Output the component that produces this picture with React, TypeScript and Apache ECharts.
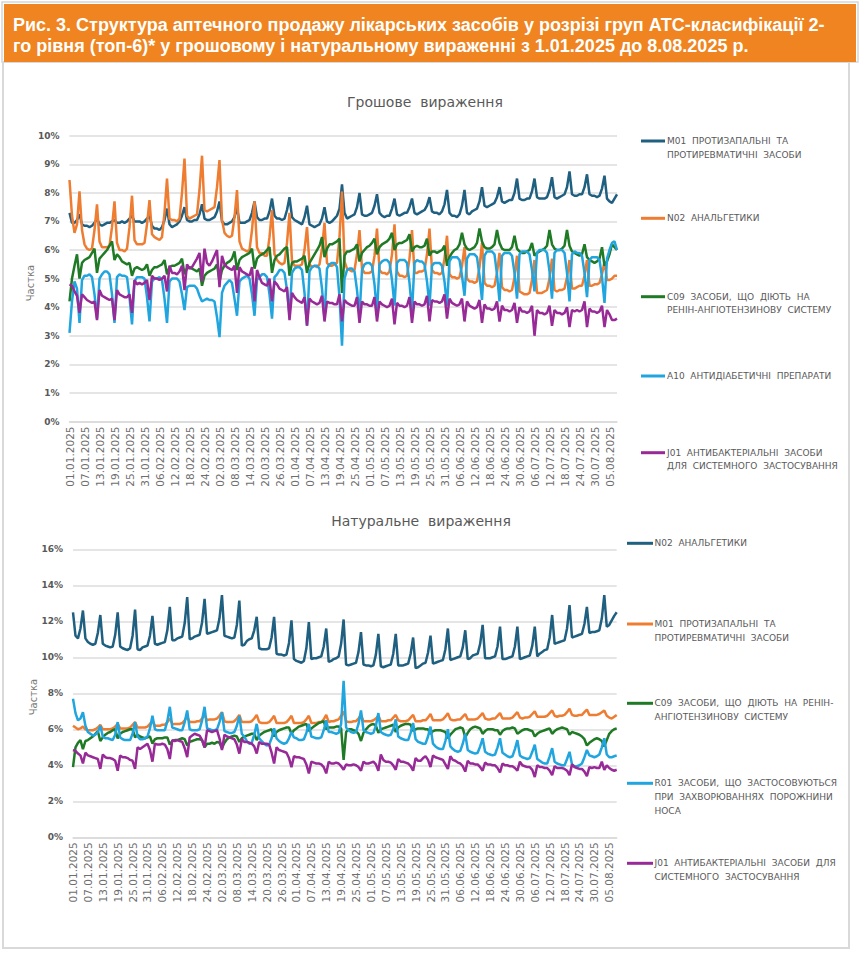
import React, { useEffect, useRef } from "react";
import * as echarts from "echarts";

// ---------- categories ----------
const START_DATE = "2025-01-01";
const DAY_COUNT = 220;
const LABEL_EVERY = 6;

// ---------- money share (%), daily from 01.01.2025 ----------
const m01Money = [
  7.30, 6.95, 6.95, 7.05, 7.25, 6.90, 6.85,
  6.85, 6.80, 6.85, 6.95, 7.10, 6.90, 6.85,
  6.90, 6.95, 6.95, 7.00, 7.05, 6.95, 6.95,
  7.00, 6.95, 7.00, 7.10, 7.20, 7.00, 7.00,
  7.00, 6.95, 7.00, 7.10, 7.20, 6.85, 6.75,
  6.75, 6.70, 6.80, 7.05, 7.45, 6.90, 6.80,
  6.85, 6.90, 7.00, 7.20, 7.50, 7.05, 7.00,
  7.00, 7.05, 7.05, 7.25, 7.60, 7.10, 7.05,
  7.05, 7.10, 7.15, 7.35, 7.70, 7.00, 6.90,
  6.90, 6.95, 7.00, 7.15, 7.50, 6.95, 6.95,
  6.95, 7.00, 7.05, 7.30, 7.70, 7.15, 7.05,
  7.05, 7.10, 7.10, 7.35, 7.80, 7.20, 7.10,
  7.10, 7.05, 7.10, 7.40, 7.85, 7.15, 7.05,
  7.00, 6.95, 6.90, 7.15, 7.55, 6.90, 6.85,
  6.80, 6.85, 6.90, 7.10, 7.50, 7.00, 6.95,
  7.00, 7.10, 7.20, 7.45, 8.30, 7.30, 7.10,
  7.15, 7.20, 7.25, 7.50, 8.00, 7.25, 7.20,
  7.20, 7.25, 7.30, 7.55, 7.95, 7.30, 7.20,
  7.15, 7.20, 7.20, 7.45, 7.80, 7.25, 7.20,
  7.25, 7.30, 7.30, 7.50, 7.80, 7.30, 7.25,
  7.30, 7.35, 7.40, 7.55, 7.85, 7.35, 7.30,
  7.30, 7.25, 7.35, 7.60, 8.10, 7.30, 7.20,
  7.20, 7.15, 7.25, 7.55, 8.10, 7.30, 7.25,
  7.35, 7.40, 7.45, 7.70, 8.20, 7.55, 7.50,
  7.55, 7.60, 7.65, 7.85, 8.20, 7.70, 7.65,
  7.70, 7.75, 7.75, 8.00, 8.50, 7.80, 7.75,
  7.75, 7.80, 7.80, 8.05, 8.50, 7.85, 7.80,
  7.80, 7.80, 7.85, 8.10, 8.55, 7.85, 7.80,
  7.85, 7.90, 7.95, 8.20, 8.75, 7.95, 7.90,
  7.90, 7.95, 7.95, 8.20, 8.65, 7.95, 7.90,
  7.90, 7.85, 7.90, 8.15, 8.60, 7.80, 7.70,
  7.65, 7.80, 7.95,
];

const n02Money = [
  8.45, 7.20, 6.60, 6.90, 8.05, 6.70, 6.20,
  6.05, 6.00, 6.05, 6.70, 7.60, 6.30, 6.10,
  6.10, 6.10, 6.15, 6.80, 7.70, 6.25, 6.00,
  6.00, 5.95, 6.05, 6.80, 7.90, 6.35, 6.20,
  6.20, 6.20, 6.25, 6.90, 7.75, 6.55, 6.45,
  6.40, 6.35, 6.45, 7.30, 8.50, 7.10, 7.05,
  7.05, 7.00, 7.10, 8.00, 9.20, 7.20, 7.10,
  7.15, 7.20, 7.25, 8.10, 9.30, 7.40, 7.35,
  7.40, 7.45, 7.50, 8.20, 9.15, 7.05, 6.60,
  6.50, 6.45, 6.50, 7.15, 8.10, 6.30, 6.05,
  6.00, 5.95, 6.00, 6.70, 7.70, 6.10, 5.90,
  5.90, 5.80, 5.80, 6.45, 7.40, 5.85, 5.65,
  5.55, 5.50, 5.55, 6.25, 7.30, 5.60, 5.45,
  5.45, 5.45, 5.50, 6.00, 6.80, 5.50, 5.40,
  5.45, 5.40, 5.50, 6.05, 6.95, 5.55, 5.45,
  5.45, 5.50, 5.55, 6.45, 8.05, 5.60, 5.35,
  5.30, 5.25, 5.30, 5.85, 6.70, 5.35, 5.20,
  5.20, 5.20, 5.25, 5.80, 6.75, 5.30, 5.20,
  5.20, 5.15, 5.25, 5.85, 6.90, 5.25, 5.10,
  5.10, 5.05, 5.10, 5.70, 6.70, 5.20, 5.20,
  5.25, 5.25, 5.30, 5.85, 6.75, 5.30, 5.20,
  5.20, 5.15, 5.20, 5.70, 6.50, 5.15, 5.05,
  5.05, 5.00, 5.05, 5.45, 6.10, 5.00, 4.90,
  4.90, 4.85, 4.90, 5.40, 6.25, 4.85, 4.75,
  4.75, 4.70, 4.75, 5.20, 5.90, 4.70, 4.60,
  4.60, 4.55, 4.60, 5.05, 5.80, 4.55, 4.50,
  4.45, 4.45, 4.50, 4.95, 5.65, 4.50, 4.50,
  4.50, 4.55, 4.60, 5.00, 5.70, 4.60, 4.55,
  4.60, 4.60, 4.65, 5.05, 5.65, 4.65, 4.65,
  4.70, 4.75, 4.75, 5.10, 5.65, 4.75, 4.75,
  4.80, 4.80, 4.85, 5.15, 5.60, 4.95, 4.95,
  5.00, 5.10, 5.10,
];

const c09Money = [
  4.20, 5.00, 5.45, 5.85, 5.00, 5.55, 5.65,
  5.70, 5.75, 5.90, 6.05, 5.20, 5.70, 5.80,
  5.90, 6.00, 6.15, 6.30, 5.65, 5.85, 5.75,
  5.60, 5.55, 5.50, 5.55, 5.10, 5.35, 5.40,
  5.35, 5.30, 5.35, 5.50, 5.10, 5.30, 5.40,
  5.40, 5.45, 5.50, 5.65, 5.15, 5.40, 5.45,
  5.45, 5.50, 5.55, 5.70, 5.15, 5.35, 5.40,
  5.35, 5.30, 5.25, 5.35, 4.75, 5.10, 5.20,
  5.25, 5.30, 5.35, 5.50, 4.90, 5.30, 5.45,
  5.55, 5.60, 5.70, 5.95, 5.30, 5.65, 5.75,
  5.80, 5.85, 5.90, 6.05, 5.35, 5.70, 5.80,
  5.85, 5.90, 6.00, 6.10, 5.20, 5.65, 5.80,
  5.85, 5.95, 6.05, 6.10, 5.10, 5.55, 5.60,
  5.60, 5.65, 5.70, 5.80, 5.20, 5.55, 5.70,
  5.85, 6.00, 6.15, 6.45, 5.75, 6.05, 6.20,
  6.20, 6.25, 6.30, 6.40, 4.50, 5.80, 5.95,
  5.95, 6.00, 6.05, 6.20, 5.60, 5.90, 6.00,
  6.10, 6.15, 6.25, 6.40, 5.85, 6.10, 6.20,
  6.25, 6.30, 6.40, 6.60, 6.00, 6.20, 6.25,
  6.25, 6.30, 6.35, 6.55, 5.95, 6.10, 6.15,
  6.10, 6.10, 6.15, 6.40, 5.80, 5.95, 5.95,
  5.90, 5.95, 6.00, 6.15, 5.45, 5.75, 5.90,
  6.00, 6.05, 6.20, 6.60, 6.20, 6.05, 6.00,
  6.05, 6.10, 6.25, 6.75, 6.30, 6.10, 6.05,
  6.05, 6.10, 6.20, 6.70, 6.25, 6.05, 6.00,
  6.00, 6.00, 6.10, 6.50, 6.05, 5.95, 5.90,
  5.90, 5.95, 6.00, 6.25, 5.80, 5.90, 5.95,
  6.00, 6.05, 6.15, 6.70, 6.20, 6.05, 6.00,
  6.00, 6.05, 6.15, 6.70, 6.15, 5.95, 5.90,
  5.85, 5.80, 5.85, 6.20, 5.75, 5.65, 5.60,
  5.55, 5.60, 5.70, 6.10, 5.45, 5.60, 5.85,
  6.20, 6.10, 6.00,
];

const a10Money = [
  3.10, 4.20, 4.90, 4.65, 3.45, 4.95, 5.10,
  5.10, 5.15, 5.05, 4.45, 3.60, 5.00, 5.15,
  5.25, 5.25, 5.15, 4.45, 3.45, 5.05, 5.15,
  5.10, 5.10, 5.05, 4.35, 3.40, 4.90, 5.05,
  5.05, 5.05, 5.00, 4.35, 3.50, 4.90, 5.00,
  5.00, 5.05, 4.95, 4.30, 3.45, 4.90, 5.00,
  5.00, 5.00, 4.90, 4.45, 3.90, 4.70, 4.75,
  4.75, 4.75, 4.65, 4.40, 4.20, 4.25, 4.30,
  4.25, 4.25, 4.20, 3.65, 2.95, 4.50, 4.75,
  4.85, 4.95, 4.85, 4.30, 3.70, 4.90, 5.00,
  5.05, 5.10, 5.00, 4.45, 3.70, 4.95, 5.05,
  5.15, 5.15, 5.05, 4.45, 3.60, 5.05, 5.15,
  5.30, 5.30, 5.20, 4.60, 3.70, 5.20, 5.35,
  5.40, 5.40, 5.30, 4.50, 3.35, 5.25, 5.40,
  5.45, 5.45, 5.35, 4.65, 3.60, 5.35, 5.50,
  5.55, 5.55, 5.40, 4.35, 2.65, 5.00, 5.30,
  5.35, 5.35, 5.25, 4.60, 3.70, 5.30, 5.50,
  5.55, 5.55, 5.45, 4.80, 3.80, 5.50, 5.60,
  5.65, 5.65, 5.55, 4.95, 4.05, 5.55, 5.65,
  5.65, 5.65, 5.55, 4.85, 3.85, 5.55, 5.65,
  5.60, 5.60, 5.50, 4.90, 4.05, 5.45, 5.55,
  5.55, 5.55, 5.45, 4.90, 4.05, 5.60, 5.75,
  5.75, 5.75, 5.65, 5.10, 4.40, 5.70, 5.85,
  5.85, 5.85, 5.75, 5.10, 4.25, 5.80, 5.95,
  5.95, 5.95, 5.85, 5.15, 4.20, 5.80, 5.90,
  5.90, 5.90, 5.80, 5.20, 4.30, 5.85, 5.95,
  5.95, 5.95, 5.85, 5.30, 4.55, 5.90, 6.00,
  6.00, 6.00, 5.90, 5.25, 4.30, 5.90, 6.00,
  6.00, 6.00, 5.90, 5.20, 4.20, 5.85, 5.95,
  5.90, 5.90, 5.80, 5.20, 4.35, 5.65, 5.75,
  5.75, 5.75, 5.65, 5.05, 4.15, 5.70, 6.00,
  6.25, 6.30, 6.00,
];

const j01Money = [
  4.80, 4.75, 4.55, 4.40, 3.80, 4.45, 4.35,
  4.25, 4.20, 4.15, 4.20, 3.55, 4.60, 4.40,
  4.35, 4.30, 4.25, 4.30, 3.55, 4.60, 4.45,
  4.40, 4.35, 4.35, 4.45, 3.80, 4.95, 4.80,
  4.85, 4.80, 4.85, 4.95, 4.25, 5.10, 5.00,
  5.00, 4.95, 5.00, 5.10, 4.55, 5.45, 5.20,
  5.20, 5.15, 5.25, 5.45, 4.60, 5.50, 5.35,
  5.40, 5.55, 5.70, 5.90, 4.90, 6.05, 5.55,
  5.45, 5.60, 5.80, 6.00, 4.70, 5.80, 5.50,
  5.40, 5.35, 5.30, 5.45, 4.50, 5.40, 5.25,
  5.20, 5.15, 5.10, 5.40, 4.20, 5.30, 5.05,
  4.85, 4.80, 4.75, 5.00, 4.20, 4.90, 4.80,
  4.65, 4.60, 4.55, 4.70, 3.55, 4.50, 4.35,
  4.25, 4.20, 4.15, 4.35, 3.35, 4.30, 4.20,
  4.15, 4.10, 4.15, 4.40, 3.50, 4.20, 4.15,
  4.15, 4.10, 4.10, 4.45, 3.50, 4.25, 4.15,
  4.10, 4.05, 4.05, 4.35, 3.45, 4.20, 4.10,
  4.10, 4.05, 4.05, 4.35, 3.50, 4.20, 4.10,
  4.05, 4.00, 4.05, 4.30, 3.40, 4.15, 4.05,
  4.05, 4.00, 4.05, 4.35, 3.45, 4.20, 4.10,
  4.10, 4.05, 4.10, 4.40, 3.50, 4.25, 4.20,
  4.20, 4.15, 4.20, 4.45, 3.60, 4.30, 4.15,
  4.10, 4.05, 4.10, 4.30, 3.50, 4.20, 4.05,
  4.00, 3.95, 4.00, 4.25, 3.45, 4.10, 3.95,
  3.95, 3.90, 3.95, 4.20, 3.50, 4.05, 3.90,
  3.90, 3.85, 3.90, 4.15, 3.45, 4.00, 3.85,
  3.85, 3.80, 3.85, 4.05, 3.00, 3.90, 3.80,
  3.80, 3.75, 3.80, 4.05, 3.35, 3.90, 3.80,
  3.80, 3.75, 3.80, 4.00, 3.30, 3.90, 3.85,
  3.90, 3.85, 3.90, 4.20, 3.30, 3.95, 3.85,
  3.85, 3.80, 3.85, 4.05, 3.30, 3.90, 3.75,
  3.55, 3.55, 3.60,
];

// ---------- units share (%), daily from 01.01.2025 ----------
const n02Units = [
  12.50, 11.20, 11.05, 11.60, 12.60, 11.05, 10.85,
  10.75, 10.70, 10.75, 11.35, 12.35, 10.75, 10.65,
  10.60, 10.55, 10.60, 11.25, 12.50, 10.60, 10.50,
  10.45, 10.40, 10.50, 11.20, 12.65, 10.45, 10.40,
  10.55, 10.60, 10.65, 11.20, 12.30, 10.75, 10.70,
  10.75, 10.80, 10.85, 11.50, 12.80, 10.95, 10.95,
  11.05, 11.10, 11.15, 11.90, 13.35, 11.00, 11.05,
  11.15, 11.20, 11.25, 11.95, 13.25, 11.30, 11.35,
  11.40, 11.45, 11.50, 12.15, 13.45, 11.20, 11.15,
  11.10, 11.05, 11.10, 11.80, 13.15, 10.65, 10.70,
  10.90, 11.00, 11.05, 11.50, 12.25, 10.50, 10.45,
  10.45, 10.45, 10.50, 11.10, 12.25, 10.20, 10.15,
  10.15, 10.10, 10.15, 10.80, 12.05, 9.90, 9.80,
  9.75, 9.70, 9.80, 10.50, 11.95, 9.90, 9.95,
  9.95, 10.00, 10.05, 10.60, 11.60, 9.75, 9.80,
  9.90, 9.95, 10.05, 10.75, 12.10, 9.60, 9.55,
  9.60, 9.65, 9.70, 10.30, 11.40, 9.60, 9.55,
  9.55, 9.50, 9.55, 10.15, 11.30, 9.50, 9.45,
  9.50, 9.55, 9.60, 10.20, 11.30, 9.55, 9.55,
  9.55, 9.60, 9.65, 10.20, 11.10, 9.40, 9.45,
  9.55, 9.65, 9.70, 10.25, 11.20, 9.65, 9.70,
  9.75, 9.80, 9.85, 10.45, 11.60, 9.85, 9.90,
  9.95, 10.00, 10.05, 10.55, 11.50, 9.90, 9.95,
  10.10, 10.15, 10.20, 10.75, 11.80, 9.95, 9.95,
  9.95, 10.00, 10.05, 10.60, 11.70, 9.90, 9.90,
  9.95, 10.00, 10.05, 10.60, 11.70, 9.90, 9.95,
  10.00, 10.05, 10.10, 10.65, 11.70, 10.05, 10.20,
  10.30, 10.40, 10.45, 11.10, 12.35, 10.75, 10.80,
  10.85, 10.90, 10.95, 11.60, 12.90, 11.10, 11.15,
  11.20, 11.25, 11.30, 11.85, 12.80, 11.35, 11.40,
  11.40, 11.45, 11.50, 12.15, 13.45, 11.70, 11.80,
  12.05, 12.30, 12.50,
];

const m01Units = [
  6.20, 6.10, 6.00, 6.05, 6.15, 6.00, 5.95,
  5.95, 5.95, 6.00, 6.10, 6.25, 6.00, 6.00,
  6.00, 6.00, 6.05, 6.15, 6.30, 6.05, 6.05,
  6.05, 6.05, 6.10, 6.25, 6.40, 6.10, 6.10,
  6.10, 6.10, 6.15, 6.30, 6.45, 6.20, 6.20,
  6.20, 6.25, 6.25, 6.40, 6.60, 6.30, 6.30,
  6.30, 6.30, 6.35, 6.50, 6.70, 6.40, 6.40,
  6.40, 6.45, 6.45, 6.60, 6.80, 6.50, 6.55,
  6.55, 6.55, 6.60, 6.75, 6.95, 6.45, 6.40,
  6.40, 6.40, 6.45, 6.60, 6.80, 6.40, 6.40,
  6.40, 6.40, 6.45, 6.60, 6.80, 6.40, 6.35,
  6.35, 6.35, 6.40, 6.55, 6.75, 6.35, 6.35,
  6.35, 6.35, 6.40, 6.55, 6.75, 6.35, 6.35,
  6.35, 6.35, 6.40, 6.55, 6.75, 6.35, 6.35,
  6.35, 6.40, 6.40, 6.55, 6.80, 6.40, 6.45,
  6.45, 6.50, 6.55, 6.75, 7.00, 6.45, 6.40,
  6.40, 6.45, 6.45, 6.60, 6.80, 6.45, 6.45,
  6.45, 6.45, 6.50, 6.60, 6.75, 6.45, 6.45,
  6.45, 6.50, 6.50, 6.65, 6.80, 6.50, 6.45,
  6.45, 6.45, 6.50, 6.65, 6.80, 6.45, 6.45,
  6.45, 6.50, 6.50, 6.65, 6.85, 6.50, 6.50,
  6.50, 6.50, 6.55, 6.70, 6.90, 6.55, 6.50,
  6.50, 6.55, 6.55, 6.70, 6.85, 6.55, 6.55,
  6.55, 6.55, 6.60, 6.75, 6.90, 6.60, 6.55,
  6.55, 6.60, 6.60, 6.75, 6.90, 6.60, 6.60,
  6.60, 6.60, 6.65, 6.80, 6.95, 6.65, 6.60,
  6.65, 6.65, 6.70, 6.85, 7.00, 6.70, 6.70,
  6.70, 6.70, 6.75, 6.90, 7.05, 6.75, 6.70,
  6.75, 6.75, 6.80, 6.95, 7.15, 6.80, 6.75,
  6.75, 6.80, 6.80, 6.95, 7.10, 6.80, 6.80,
  6.80, 6.80, 6.85, 6.95, 7.05, 6.75, 6.65,
  6.60, 6.70, 6.80,
];

const c09Units = [
  3.90, 5.00, 5.25, 5.40, 4.90, 5.35, 5.40,
  5.50, 5.60, 5.75, 5.90, 5.35, 5.55, 5.70,
  5.80, 5.85, 5.95, 6.00, 5.50, 5.75, 5.85,
  5.90, 5.95, 6.00, 6.00, 5.55, 5.70, 5.60,
  5.55, 5.50, 5.55, 5.60, 5.20, 5.45, 5.50,
  5.50, 5.50, 5.55, 5.55, 5.15, 5.35, 5.40,
  5.40, 5.45, 5.50, 5.45, 5.10, 5.30, 5.35,
  5.40, 5.45, 5.45, 5.40, 5.00, 5.20, 5.20,
  5.25, 5.20, 5.30, 5.25, 4.95, 5.25, 5.45,
  5.55, 5.60, 5.65, 5.60, 5.30, 5.50, 5.60,
  5.65, 5.70, 5.75, 5.75, 5.40, 5.65, 5.75,
  5.85, 5.90, 5.95, 6.00, 5.60, 5.85, 5.95,
  6.00, 6.05, 6.10, 6.10, 5.75, 5.95, 6.05,
  6.15, 6.20, 6.25, 6.30, 5.90, 6.05, 6.15,
  6.25, 6.35, 6.40, 6.45, 6.00, 6.10, 6.10,
  6.10, 6.15, 6.15, 6.05, 4.30, 5.85, 6.00,
  6.00, 5.95, 5.90, 5.75, 5.35, 5.80, 6.00,
  6.15, 6.25, 6.30, 6.20, 5.80, 6.00, 6.05,
  6.10, 6.15, 6.20, 6.25, 5.85, 6.10, 6.20,
  6.25, 6.30, 6.30, 6.25, 5.90, 6.00, 6.05,
  6.05, 6.05, 6.00, 6.00, 5.75, 5.90, 5.95,
  5.95, 5.95, 5.90, 5.85, 5.50, 5.70, 5.85,
  6.00, 6.05, 6.10, 6.05, 5.55, 5.80, 6.00,
  6.10, 6.15, 6.10, 6.05, 5.75, 5.90, 6.00,
  6.00, 6.00, 5.95, 5.95, 5.70, 5.90, 6.00,
  6.05, 6.05, 6.10, 6.05, 5.75, 5.85, 5.95,
  6.00, 6.00, 5.95, 5.90, 5.60, 5.75, 5.85,
  5.90, 5.95, 6.00, 6.05, 5.75, 5.90, 6.00,
  6.05, 6.10, 6.05, 6.00, 5.70, 5.85, 5.80,
  5.75, 5.70, 5.60, 5.45, 5.10, 5.25, 5.35,
  5.45, 5.50, 5.45, 5.35, 5.05, 5.40, 5.75,
  5.90, 6.00, 6.05,
];

const r01Units = [
  7.70, 6.90, 6.50, 6.60, 6.95, 6.20, 5.85,
  5.75, 5.65, 5.70, 5.85, 6.20, 5.60, 5.50,
  5.50, 5.45, 5.40, 5.70, 6.40, 5.55, 5.45,
  5.40, 5.40, 5.40, 5.75, 6.40, 5.60, 5.45,
  5.45, 5.50, 5.60, 6.05, 6.75, 6.00, 5.95,
  5.95, 5.95, 5.95, 6.45, 7.25, 6.10, 6.05,
  6.00, 5.95, 5.95, 6.40, 7.05, 6.00, 5.95,
  5.95, 5.95, 6.00, 6.50, 7.25, 6.05, 6.00,
  5.95, 5.95, 6.00, 6.40, 6.95, 5.90, 5.85,
  5.80, 5.80, 5.85, 6.20, 6.75, 5.75, 5.60,
  5.35, 5.20, 5.25, 5.70, 6.30, 5.50, 5.35,
  5.20, 5.10, 5.15, 5.50, 6.05, 5.50, 5.35,
  5.25, 5.20, 5.25, 5.50, 5.85, 5.55, 5.50,
  5.40, 5.40, 5.45, 5.80, 6.30, 5.60, 5.55,
  5.50, 5.50, 5.55, 5.95, 6.50, 5.85, 5.85,
  5.80, 5.75, 5.80, 6.30, 8.70, 6.10, 5.95,
  5.85, 5.80, 5.85, 6.30, 7.05, 5.95, 5.85,
  5.80, 5.75, 5.80, 6.20, 6.90, 5.85, 5.75,
  5.70, 5.65, 5.70, 6.00, 6.55, 5.60, 5.50,
  5.45, 5.40, 5.40, 5.80, 6.35, 5.45, 5.30,
  5.25, 5.20, 5.20, 5.60, 6.15, 5.20, 5.05,
  4.95, 4.90, 4.90, 5.35, 6.00, 5.05, 4.90,
  4.80, 4.75, 4.80, 5.20, 5.75, 4.85, 4.75,
  4.70, 4.65, 4.70, 5.05, 5.50, 4.75, 4.65,
  4.60, 4.55, 4.60, 5.00, 5.50, 4.70, 4.60,
  4.50, 4.45, 4.50, 4.90, 5.40, 4.55, 4.45,
  4.40, 4.35, 4.40, 4.75, 5.15, 4.35, 4.25,
  4.15, 4.10, 4.10, 4.50, 4.95, 4.20, 4.10,
  4.05, 4.00, 4.00, 4.35, 4.75, 4.05, 3.95,
  3.95, 4.00, 4.10, 4.45, 4.85, 4.55, 4.50,
  4.45, 4.50, 4.60, 5.00, 5.50, 4.60, 4.45,
  4.45, 4.50, 4.55,
];

const j01Units = [
  4.85, 4.80, 4.65, 4.55, 4.10, 4.70, 4.55,
  4.50, 4.45, 4.40, 4.35, 3.80, 4.60, 4.45,
  4.40, 4.40, 4.35, 4.25, 3.70, 4.55, 4.45,
  4.45, 4.40, 4.30, 4.25, 3.80, 5.00, 4.90,
  5.00, 5.10, 5.20, 4.85, 4.20, 5.20, 5.15,
  5.15, 5.20, 5.15, 4.90, 4.35, 5.40, 5.35,
  5.40, 5.35, 5.30, 4.95, 4.45, 5.55, 5.65,
  5.75, 5.70, 5.65, 5.40, 5.00, 5.95, 5.90,
  5.85, 5.90, 5.95, 5.50, 4.85, 5.70, 5.60,
  5.55, 5.50, 5.45, 5.15, 4.65, 5.45, 5.30,
  5.30, 5.25, 5.20, 5.05, 4.65, 5.30, 5.20,
  5.20, 5.20, 5.15, 4.70, 4.10, 5.00, 4.85,
  4.80, 4.75, 4.70, 4.40, 3.90, 4.50, 4.45,
  4.45, 4.40, 4.35, 4.05, 3.55, 4.20, 4.15,
  4.10, 4.10, 4.05, 3.90, 3.55, 4.20, 4.10,
  4.10, 4.15, 4.10, 3.95, 3.75, 4.05, 4.00,
  4.00, 4.05, 4.00, 3.90, 3.70, 4.20, 4.10,
  4.10, 4.15, 4.20, 4.05, 3.70, 4.60, 4.30,
  4.20, 4.20, 4.15, 4.00, 3.75, 4.35, 4.20,
  4.20, 4.15, 4.10, 3.95, 3.70, 4.40, 4.25,
  4.25, 4.40, 4.50, 4.30, 3.90, 4.55, 4.45,
  4.40, 4.35, 4.30, 4.05, 3.80, 4.50, 4.30,
  4.25, 4.15, 4.10, 3.95, 3.65, 4.25, 4.10,
  4.10, 4.05, 4.05, 3.90, 3.70, 4.15, 4.05,
  4.05, 4.00, 4.00, 3.85, 3.60, 4.10, 4.00,
  4.00, 3.95, 3.95, 3.85, 3.70, 4.20, 4.00,
  3.95, 3.90, 3.90, 3.75, 3.35, 4.00, 3.90,
  3.90, 3.85, 3.85, 3.70, 3.45, 3.95, 3.85,
  3.85, 3.85, 3.80, 3.70, 3.45, 4.05, 3.90,
  3.85, 3.80, 3.80, 3.65, 3.40, 3.90, 3.85,
  3.90, 3.85, 3.85, 4.20, 3.75, 4.00, 3.85,
  3.75, 3.70, 3.75,
];

// ---------- tick labels / texts ----------
const moneyTicks = [0, 1, 2, 3, 4, 5, 6, 7, 8, 9, 10];
const unitTicks = [0, 2, 4, 6, 8, 10, 12, 14, 16];

const HEADER_1 =
  "Рис. 3. Структура аптечного продажу лікарських засобів у розрізі груп АТС-класифікації 2-";
const HEADER_2 =
  "го рівня (топ-6)* у грошовому і натуральному вираженні з 1.01.2025 до 8.08.2025 р.";
const TITLE_MONEY = "Грошове  вираження";
const TITLE_UNITS = "Натуральне  вираження";
const Y_NAME = "Частка";

const COLORS = {
  dark: "#1f5f80",
  orange: "#ee7d31",
  green: "#1f7a25",
  light: "#21a5de",
  purple: "#982a97",
};

const moneySeries = [
  { name: "M01", lines: ["M01  ПРОТИЗАПАЛЬНІ  ТА", "ПРОТИРЕВМАТИЧНІ  ЗАСОБИ"], color: COLORS.dark, data: m01Money },
  { name: "N02", lines: ["N02  АНАЛЬГЕТИКИ"], color: COLORS.orange, data: n02Money },
  { name: "C09", lines: ["C09  ЗАСОБИ,  ЩО  ДІЮТЬ  НА", "РЕНІН-АНГІОТЕНЗИНОВУ  СИСТЕМУ"], color: COLORS.green, data: c09Money },
  { name: "A10", lines: ["A10  АНТИДІАБЕТИЧНІ  ПРЕПАРАТИ"], color: COLORS.light, data: a10Money },
  { name: "J01", lines: ["J01  АНТИБАКТЕРІАЛЬНІ  ЗАСОБИ", "ДЛЯ  СИСТЕМНОГО  ЗАСТОСУВАННЯ"], color: COLORS.purple, data: j01Money },
];

const unitSeries = [
  { name: "N02 ", lines: ["N02  АНАЛЬГЕТИКИ"], color: COLORS.dark, data: n02Units },
  { name: "M01 ", lines: ["M01  ПРОТИЗАПАЛЬНІ  ТА", "ПРОТИРЕВМАТИЧНІ  ЗАСОБИ"], color: COLORS.orange, data: m01Units },
  { name: "C09 ", lines: ["C09  ЗАСОБИ,  ЩО  ДІЮТЬ  НА  РЕНІН-", "АНГІОТЕНЗИНОВУ  СИСТЕМУ"], color: COLORS.green, data: c09Units },
  { name: "R01", lines: ["R01  ЗАСОБИ,  ЩО  ЗАСТОСОВУЮТЬСЯ", "ПРИ  ЗАХВОРЮВАННЯХ  ПОРОЖНИНИ", "НОСА"], color: COLORS.light, data: r01Units },
  { name: "J01 ", lines: ["J01  АНТИБАКТЕРІАЛЬНІ  ЗАСОБИ  ДЛЯ", "СИСТЕМНОГО  ЗАСТОСУВАННЯ"], color: COLORS.purple, data: j01Units },
];

function buildDates(): string[] {
  const out: string[] = [];
  const [y, m, d] = START_DATE.split("-").map(Number);
  for (let i = 0; i < DAY_COUNT; i++) {
    const dt = new Date(Date.UTC(y, m - 1, d + i));
    const dd = String(dt.getUTCDate()).padStart(2, "0");
    const mm = String(dt.getUTCMonth() + 1).padStart(2, "0");
    out.push(`${dd}.${mm}.${dt.getUTCFullYear()}`);
  }
  return out;
}

const dates = buildDates();

// layout
const TOP_GRID = { left: 69.5, right: 243, top: 135.7, height: 285.8 };
const BOT_GRID = { left: 73, right: 243.3, top: 549.3, height: 288 };
const TOP_LEGEND = { lineX1: 641, lineX2: 665, textX: 667, ys: [141, 218.3, 296.7, 376, 452.7] };
const BOT_LEGEND = { lineX1: 627, lineX2: 653, textX: 654.5, ys: [543.3, 624, 703.3, 783.3, 863.3] };
const LEGEND_LH = 13.8;

function legendGraphics(list: typeof moneySeries, cfg: typeof TOP_LEGEND) {
  const out: any[] = [];
  list.forEach((s, i) => {
    const y = cfg.ys[i];
    out.push({
      type: "line",
      shape: { x1: cfg.lineX1, y1: y, x2: cfg.lineX2, y2: y },
      style: { stroke: s.color, lineWidth: 3 },
    });
    out.push({
      type: "text",
      x: cfg.textX,
      y: y - LEGEND_LH / 2,
      style: {
        text: s.lines.join("\n"),
        fill: "#595959",
        font: "9px 'DejaVu Sans', sans-serif",
        lineHeight: LEGEND_LH,
        verticalAlign: "top",
        align: "left",
      },
    });
  });
  return out;
}

function xAxisCfg(gridIndex: number) {
  return {
    type: "category",
    gridIndex,
    data: dates,
    boundaryGap: false,
    axisLine: { show: true, lineStyle: { color: "#d9d9d9", width: 1.5 } },
    axisTick: { show: false },
    axisLabel: {
      interval: LABEL_EVERY - 1,
      rotate: 90,
      color: "#6e6e6e",
      fontSize: 10.5,
      fontFamily: "'DejaVu Sans', sans-serif",
      margin: 5,
    },
    splitLine: { show: false },
  };
}

function yAxisCfg(gridIndex: number, ticks: number[]) {
  return {
    type: "value",
    gridIndex,
    min: ticks[0],
    max: ticks[ticks.length - 1],
    interval: ticks[1] - ticks[0],
    axisLine: { show: false },
    axisTick: { show: false },
    axisLabel: {
      formatter: "{value}%",
      color: "#595959",
      fontSize: 9,
      fontWeight: "bold",
      fontFamily: "'DejaVu Sans', sans-serif",
      margin: 10,
    },
    splitLine: { show: true, lineStyle: { color: "#dcdcdc", width: 1.5 } },
  };
}

function seriesCfg(list: typeof moneySeries, idx: number) {
  return list.map((s) => ({
    name: s.name,
    type: "line",
    xAxisIndex: idx,
    yAxisIndex: idx,
    data: s.data,
    symbol: "none",
    showSymbol: false,
    smooth: false,
    lineStyle: { color: s.color, width: 2.5 },
    itemStyle: { color: s.color },
  }));
}

export default function App() {
  const ref = useRef<HTMLDivElement>(null);

  useEffect(() => {
    if (!ref.current) return;
    const chart = echarts.init(ref.current, null, { renderer: "svg" });
    const headerFont = "bold 18px 'Liberation Sans', Arial, sans-serif";
    const option: any = {
      animation: false,
      backgroundColor: "#ffffff",
      grid: [
        { ...TOP_GRID, containLabel: false, outerBoundsMode: "none" },
        { ...BOT_GRID, containLabel: false, outerBoundsMode: "none" },
      ],
      xAxis: [xAxisCfg(0), xAxisCfg(1)],
      yAxis: [yAxisCfg(0, moneyTicks), yAxisCfg(1, unitTicks)],
      series: [...seriesCfg(moneySeries, 0), ...seriesCfg(unitSeries, 1)],
      graphic: [
        // outer frame
        {
          type: "rect",
          shape: { x: 2, y: 2, width: 856, height: 60 },
          style: { fill: "none", stroke: "#d6d6d6", lineWidth: 1.5 },
        },
        {
          type: "rect",
          shape: { x: 3, y: 62, width: 846, height: 886 },
          style: { fill: "none", stroke: "#d9d9d9", lineWidth: 2 },
        },
        // header
        {
          type: "rect",
          shape: { x: 4, y: 4, width: 852, height: 58 },
          style: { fill: "#ef8420" },
        },
        {
          type: "text",
          x: 13,
          y: 25,
          style: { text: HEADER_1, fill: "#ffffff", font: headerFont, verticalAlign: "middle" },
        },
        {
          type: "text",
          x: 13,
          y: 46,
          style: { text: HEADER_2, fill: "#ffffff", font: headerFont, verticalAlign: "middle" },
        },
        // chart titles
        {
          type: "text",
          x: 425,
          y: 102,
          style: {
            text: TITLE_MONEY,
            fill: "#595959",
            font: "14px 'DejaVu Sans', sans-serif",
            align: "center",
            verticalAlign: "middle",
          },
        },
        {
          type: "text",
          x: 421,
          y: 521,
          style: {
            text: TITLE_UNITS,
            fill: "#595959",
            font: "14px 'DejaVu Sans', sans-serif",
            align: "center",
            verticalAlign: "middle",
          },
        },
        // y axis names
        {
          type: "text",
          x: 30,
          y: 283,
          rotation: Math.PI / 2,
          style: {
            text: Y_NAME,
            fill: "#7a7a7a",
            font: "10px 'DejaVu Sans', sans-serif",
            align: "center",
            verticalAlign: "middle",
          },
        },
        {
          type: "text",
          x: 33,
          y: 697,
          rotation: Math.PI / 2,
          style: {
            text: Y_NAME,
            fill: "#7a7a7a",
            font: "10px 'DejaVu Sans', sans-serif",
            align: "center",
            verticalAlign: "middle",
          },
        },
        ...legendGraphics(moneySeries, TOP_LEGEND),
        ...legendGraphics(unitSeries, BOT_LEGEND),
      ],
    };
    chart.setOption(option);
    return () => chart.dispose();
  }, []);

  return (
    <div
      ref={ref}
      style={{ position: "absolute", left: 0, top: 0, width: 860, height: 966, background: "#fff" }}
    />
  );
}
